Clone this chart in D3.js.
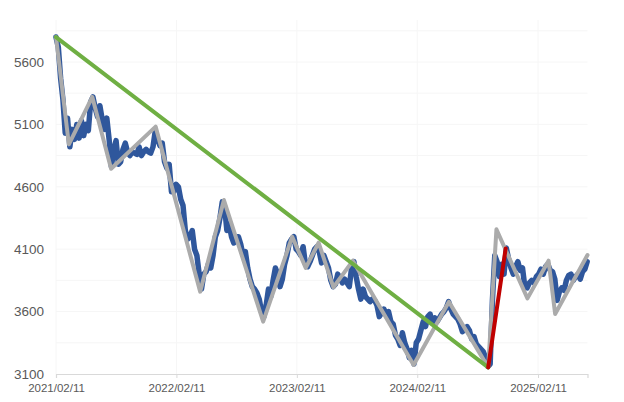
<!DOCTYPE html>
<html><head><meta charset="utf-8">
<script src="https://cdn.jsdelivr.net/npm/d3@7"></script>
<style>html,body{margin:0;padding:0;background:#fff;}svg{display:block;}</style>
</head><body>
<svg id="chart" width="624" height="402"></svg>
<script>
// ---- data ----
const yTicks = [3100, 3600, 4100, 4600, 5100, 5600];
const xTickLabels = ["2021/02/11", "2022/02/11", "2023/02/11", "2024/02/11", "2025/02/11"];
const axisEnd = "2025/07/11";

// blue series: weekly closes (every Thursday), first value on each year's start date
const blueStart2021 = "2021/02/11";
const blue2021 = [5800,5720,5470,5300,5030,5150,4920,5060,4980,5100,4990,5130,5010,5100,5050,5280,5320,5230,5160,5250,5140,5060,5150,4980,4760,4900,4970,4780,4800,4900,4950,4880,4850,4880,4870,4860,4920,4850,4880,4900,4880,4870,4920,5050,4980,4930,4950];
const blueStart2022 = "2022/01/06";
const blue2022 = [4800,4750,4780,4560,4560,4620,4600,4500,4450,4250,4180,4200,4250,4100,4050,3900,3780,3900,3920,3980,3950,4050,4200,4250,4350,4480,4440,4250,4300,4200,4150,4200,4200,4140,4050,4080,3950,3860,3800,3780,3750,3700,3600,3560,3650,3780,3720,3850,3950,3900,3800,3860];
const blueStart2023 = "2023/01/05";
const blue2023 = [3980,4050,4150,4180,4200,4100,4080,4050,4120,3980,3960,4000,4050,4100,4120,4080,3990,4050,4000,3950,3850,3800,3820,3900,3870,3830,3860,3830,3800,3950,4000,3880,3780,3700,3780,3720,3700,3680,3700,3690,3650,3560,3590,3620,3580,3600,3520,3500,3410,3380,3330,3430];
const blueStart2024 = "2024/01/04";
const blue2024 = [3350,3300,3230,3290,3180,3350,3380,3450,3520,3480,3560,3580,3510,3550,3520,3550,3580,3600,3630,3680,3620,3580,3560,3540,3500,3440,3460,3480,3450,3380,3400,3340,3320,3300,3280,3230,3160,3180,3700,4050,4000,3880,3980,3900,4110,4020,3950,3900,3960,4000,3930,3950];
const blueStart2025 = "2025/01/02";
const blue2025 = [3800,3790,3830,3850,3830,3880,3900,3940,3900,3960,3980,3930,3920,3860,3690,3760,3790,3770,3850,3890,3900,3850,3880,3900,3860,3920,3940,4000];

// gray zigzag pivots
const grayDates = ["2021/02/11","2021/03/22","2021/06/01","2021/07/28","2021/12/10","2022/04/24","2022/07/05","2022/11/01","2023/01/28","2023/03/10","2023/04/18","2023/06/02","2023/07/31","2024/01/31","2024/05/17","2024/09/13","2024/10/08","2025/01/10","2025/03/15","2025/04/04","2025/07/11"];
const grayValues = [5800,4940,5320,4745,5082,3760,4494,3519,4200,3950,4152,3795,4008,3172,3679,3153,4259,3706,4008,3581,4053];

// green trend line
const greenDates = ["2021/02/11","2024/09/13"];
const greenValues = [5800,3153];
// red line
const redDates = ["2024/09/13","2024/11/05"];
const redValues = [3153,4106];

// ---- build ----
const parse = d3.timeParse("%Y/%m/%d");
function weekly(start, vals){
  const s = parse(start);
  return vals.map((v,i)=>({d: d3.timeDay.offset(s, 7*i), v}));
}
const blue = [].concat(
  weekly(blueStart2021, blue2021), weekly(blueStart2022, blue2022),
  weekly(blueStart2023, blue2023), weekly(blueStart2024, blue2024),
  weekly(blueStart2025, blue2025));
const zip = (ds, vs) => ds.map((d,i)=>({d: parse(d), v: vs[i]}));
const gray = zip(grayDates, grayValues);
const green = zip(greenDates, greenValues);
const red = zip(redDates, redValues);

const tickDates = xTickLabels.map(parse);
const x0 = d3.scaleTime().domain([tickDates[0], tickDates[tickDates.length-1]]).range([56, 538]);
const endDate = parse(axisEnd);
const x = x0.copy().domain([tickDates[0], endDate]).range([56, x0(endDate)]);
const y = d3.scaleLinear().domain([3100, 5600]).range([374, 62]);

const svg = d3.select("#chart");

// faint gridlines
const g = svg.append("g");
g.selectAll(".hg").data(d3.range(3350, 5900, 250)).enter().append("line")
  .attr("x1", 56).attr("x2", x(endDate)).attr("y1", d=>y(d)).attr("y2", d=>y(d))
  .attr("stroke", "#f6f6f6").attr("stroke-width", 1);
g.selectAll(".vg").data(tickDates).enter().append("line")
  .attr("x1", d=>x(d)).attr("x2", d=>x(d)).attr("y1", 20).attr("y2", 374)
  .attr("stroke", "#f6f6f6").attr("stroke-width", 1);

// x axis
const xAxis = d3.axisBottom(x).tickValues(tickDates).tickFormat(d3.timeFormat("%Y/%m/%d")).tickSizeOuter(0).tickSize(4);
const ax = svg.append("g").attr("transform", "translate(0,374)").call(xAxis);
ax.select(".domain").attr("stroke", "#d9d9d9").attr("stroke-width", 1.2);
ax.selectAll(".tick line").attr("stroke", "#d9d9d9");
ax.selectAll("text").attr("fill", "#595959").attr("font-family", "Liberation Sans, Arial, sans-serif")
  .attr("font-size", "11.5px").attr("dy", "0.95em");

// y labels
const yAxis = d3.axisLeft(y).tickValues(yTicks).tickFormat(d3.format("d")).tickSize(0).tickPadding(0);
const ay = svg.append("g").attr("transform", "translate(44,0)").call(yAxis);
ay.select(".domain").remove();
ay.selectAll("text").attr("fill", "#595959").attr("font-family", "Liberation Sans, Arial, sans-serif")
  .attr("font-size", "13.5px");

// lines
const line = d3.line().x(d=>x(d.d)).y(d=>y(d.v));
svg.append("path").datum(blue).attr("d", line).attr("fill", "none")
  .attr("stroke", "#2f579c").attr("stroke-width", 5.5).attr("stroke-linejoin", "round").attr("stroke-linecap", "round");
svg.append("path").datum(gray).attr("d", line).attr("fill", "none")
  .attr("stroke", "#ababab").attr("stroke-width", 4).attr("stroke-linejoin", "round").attr("stroke-linecap", "round");
svg.append("path").datum(green).attr("d", line).attr("fill", "none")
  .attr("stroke", "#6faf43").attr("stroke-width", 4).attr("stroke-linecap", "round");
svg.append("path").datum(red).attr("d", line).attr("fill", "none")
  .attr("stroke", "#c00000").attr("stroke-width", 4).attr("stroke-linecap", "round");
</script>
</body></html>
